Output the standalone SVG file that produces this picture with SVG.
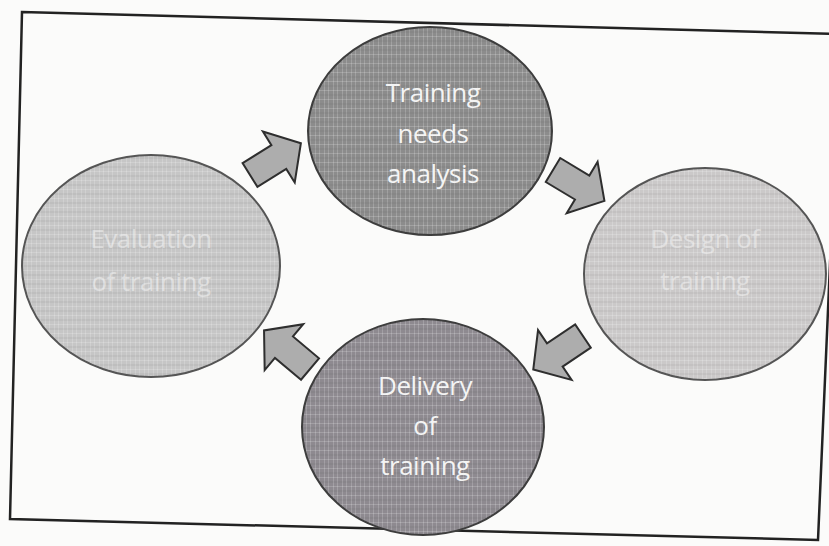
<svg xmlns="http://www.w3.org/2000/svg" width="829" height="546" viewBox="0 0 829 546">
<defs>
<pattern id="tex" width="9" height="9" patternUnits="userSpaceOnUse">
<rect width="9" height="9" fill="none"/>
<path d="M0,0.5 H9 M0.5,0 V9 M4.5,0 V9" stroke="#ffffff" stroke-opacity="0.18" stroke-width="1"/>
<path d="M0,5 H9" stroke="#000000" stroke-opacity="0.08" stroke-width="1"/>
</pattern>
<path id="arr" d="M0,-14 L34,-14 L34,-30 L60,0 L34,30 L34,14 L0,14 Z"/>
</defs>
<style>
.dark{stroke:#3d3d3d;stroke-width:2}
.light{stroke:#555;stroke-width:2}
.lbl{font-family:"Open Sans","Liberation Sans",sans-serif;font-size:26px;fill:#f4f4f4;text-anchor:middle;letter-spacing:-0.5px}
.faint{fill-opacity:0.55}
.arrow{fill:#adadad;stroke:#2e2e2e;stroke-width:2;stroke-linejoin:miter}
.frame{fill:none;stroke:#222;stroke-width:2.5}
</style>
<rect width="829" height="546" fill="#fbfbfa"/>
<polygon class="frame" points="22,12 840,34 818,540 10,519"/>
<g id="connectors">
<use href="#arr" class="arrow" transform="translate(250,175) rotate(-32)"/>
<use href="#arr" class="arrow" transform="translate(553,170) rotate(31)"/>
<use href="#arr" class="arrow" transform="translate(583,336) rotate(146)"/>
<use href="#arr" class="arrow" transform="translate(310,369) rotate(-140)"/>
</g>
<g id="node-tna">
<ellipse cx="430" cy="131" rx="122" ry="104" fill="#8c8c8c" class="dark"/>
<ellipse cx="430" cy="131" rx="121" ry="103" fill="url(#tex)"/>
<text class="lbl" x="433" y="102">Training</text>
<text class="lbl" x="433" y="143">needs</text>
<text class="lbl" x="433" y="183">analysis</text>
</g>
<g id="node-design">
<ellipse cx="705" cy="274" rx="121" ry="106" fill="#cbc9c9" class="light"/>
<ellipse cx="705" cy="274" rx="120" ry="105" fill="url(#tex)"/>
<text class="lbl faint" x="705" y="248">Design of</text>
<text class="lbl faint" x="705" y="290">training</text>
</g>
<g id="node-delivery">
<ellipse cx="423" cy="427" rx="121" ry="108" fill="#8e8a90" class="dark"/>
<ellipse cx="423" cy="427" rx="120" ry="107" fill="url(#tex)"/>
<text class="lbl" x="425" y="395">Delivery</text>
<text class="lbl" x="425" y="435">of</text>
<text class="lbl" x="425" y="475">training</text>
</g>
<g id="node-evaluation">
<ellipse cx="151" cy="266" rx="129" ry="111" fill="#c6c6c6" class="light"/>
<ellipse cx="151" cy="266" rx="128" ry="110" fill="url(#tex)"/>
<text class="lbl faint" x="151" y="248">Evaluation</text>
<text class="lbl faint" x="151" y="291">of training</text>
</g>
</svg>
